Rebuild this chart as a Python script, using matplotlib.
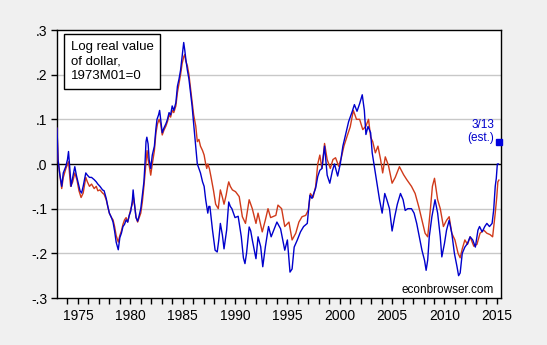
import matplotlib
matplotlib.use("Agg")
import matplotlib.pyplot as plt
import numpy as np

plt.rcParams['font.family'] = ['Liberation Sans', 'DejaVu Sans']

# Log real value of dollar (fractional year, value)
blue_t = [1973.0, 1973.1, 1973.25, 1973.45, 1973.6, 1973.85, 1974.0, 1974.1, 1974.25, 1974.35,
          1974.5, 1974.7, 1974.85, 1975.0, 1975.2, 1975.35, 1975.5, 1975.75, 1975.9, 1976.1,
          1976.3, 1976.55, 1976.75, 1976.9, 1977.1, 1977.35, 1977.5, 1977.7, 1977.85, 1978.0,
          1978.2, 1978.35, 1978.5, 1978.65, 1978.85, 1979.0, 1979.15, 1979.3, 1979.45, 1979.6,
          1979.75, 1979.9, 1980.05, 1980.2, 1980.27, 1980.4, 1980.55, 1980.7, 1980.85, 1981.0,
          1981.15, 1981.3, 1981.4, 1981.5, 1981.58, 1981.7, 1981.8, 1981.95, 1982.1, 1982.3,
          1982.45, 1982.55, 1982.7, 1982.8, 1982.9, 1983.05, 1983.2, 1983.4, 1983.55, 1983.7,
          1983.85, 1984.0, 1984.15, 1984.35, 1984.5, 1984.65, 1984.8, 1984.95, 1985.1, 1985.2,
          1985.3, 1985.45, 1985.6, 1985.75, 1985.9, 1986.05, 1986.25, 1986.4, 1986.55, 1986.7,
          1986.9, 1987.05, 1987.2, 1987.4, 1987.5, 1987.6, 1987.85, 1988.1, 1988.3, 1988.45,
          1988.6, 1988.8, 1988.95, 1989.2, 1989.4, 1989.55, 1989.7, 1990.0, 1990.3, 1990.6,
          1990.8, 1990.95, 1991.1, 1991.35, 1991.5, 1991.65, 1992.0, 1992.2, 1992.45, 1992.65,
          1992.9, 1993.2, 1993.45, 1993.7, 1994.0, 1994.35, 1994.5, 1994.75, 1995.0, 1995.25,
          1995.45, 1995.65, 1995.95, 1996.25, 1996.55, 1996.9, 1997.15, 1997.35, 1997.7, 1997.9,
          1998.1, 1998.3, 1998.55, 1998.8, 1999.05, 1999.3, 1999.5, 1999.8, 2000.05, 2000.3,
          2000.6, 2000.85, 2001.2, 2001.4, 2001.65, 2001.9, 2002.15, 2002.35, 2002.5, 2002.7,
          2002.95, 2003.1, 2003.35, 2003.55, 2003.8, 2004.05, 2004.3, 2004.5, 2004.75, 2005.0,
          2005.25, 2005.5, 2005.8, 2006.05, 2006.25, 2006.5, 2006.85, 2007.1, 2007.35, 2007.6,
          2007.85, 2008.1, 2008.25, 2008.4, 2008.55, 2008.8, 2009.1, 2009.35, 2009.6, 2009.75,
          2010.0, 2010.2, 2010.45, 2010.7, 2010.95, 2011.2, 2011.35, 2011.5, 2011.7, 2011.95,
          2012.2, 2012.45, 2012.7, 2012.95, 2013.2, 2013.35, 2013.6, 2013.85, 2014.05, 2014.3,
          2014.55, 2014.7, 2014.85, 2014.95, 2015.05, 2015.15]
blue_v = [0.08, 0.01, -0.02, -0.05, -0.02, -0.005, 0.01, 0.028, -0.02, -0.05,
          -0.03, -0.006, -0.025, -0.04, -0.06, -0.065, -0.05, -0.02, -0.025, -0.03,
          -0.03, -0.035, -0.04, -0.045, -0.05, -0.058, -0.06, -0.077, -0.095, -0.11,
          -0.12, -0.13, -0.15, -0.175, -0.192, -0.165, -0.155, -0.14, -0.135, -0.125,
          -0.13, -0.115, -0.105, -0.08, -0.058, -0.09, -0.12, -0.128, -0.115, -0.1,
          -0.07, -0.04, 0.0, 0.05, 0.06, 0.045, 0.01, -0.01, 0.02, 0.04,
          0.08, 0.1, 0.11, 0.12, 0.1, 0.07, 0.08, 0.09, 0.1, 0.115,
          0.11, 0.13, 0.12, 0.137, 0.174, 0.19, 0.21, 0.24, 0.272, 0.255,
          0.235, 0.21, 0.19, 0.16, 0.13, 0.09, 0.04, 0.0, -0.01, -0.02,
          -0.04, -0.05, -0.08, -0.11, -0.095, -0.095, -0.148, -0.193, -0.197, -0.17,
          -0.133, -0.16, -0.19, -0.148, -0.085, -0.095, -0.1, -0.12, -0.117, -0.163,
          -0.21, -0.223, -0.2, -0.141, -0.15, -0.17, -0.212, -0.163, -0.185, -0.23,
          -0.185, -0.14, -0.163, -0.148, -0.13, -0.145, -0.163, -0.193, -0.17, -0.242,
          -0.235, -0.186, -0.17, -0.152, -0.14, -0.133, -0.07, -0.077, -0.054, -0.028,
          -0.014, -0.01, 0.04, -0.025, -0.043, -0.015, 0.0, -0.027, 0.0, 0.04,
          0.07, 0.095, 0.118, 0.133, 0.118, 0.135, 0.155, 0.12, 0.066, 0.084,
          0.07, 0.025, -0.013, -0.043, -0.08, -0.11, -0.066, -0.08, -0.1, -0.15,
          -0.118, -0.09, -0.066, -0.08, -0.104, -0.1, -0.1, -0.11, -0.133, -0.163,
          -0.193, -0.216, -0.238, -0.215, -0.163, -0.118, -0.08, -0.11, -0.163, -0.208,
          -0.178, -0.148, -0.126, -0.155, -0.2, -0.23, -0.25, -0.244, -0.2, -0.186,
          -0.178, -0.163, -0.17, -0.186, -0.148, -0.14, -0.152, -0.14, -0.133, -0.14,
          -0.133, -0.103, -0.05, -0.032, 0.0, 0.0]

red_t = [1973.0, 1973.1, 1973.3, 1973.45, 1973.6, 1973.85, 1974.1, 1974.3, 1974.5, 1974.7,
         1974.9, 1975.1, 1975.3, 1975.5, 1975.75, 1975.9, 1976.1, 1976.3, 1976.55, 1976.75,
         1976.9, 1977.1, 1977.35, 1977.5, 1977.7, 1977.85, 1978.0, 1978.2, 1978.35, 1978.5,
         1978.65, 1978.85, 1979.0, 1979.15, 1979.3, 1979.45, 1979.6, 1979.75, 1979.9, 1980.05,
         1980.2, 1980.3, 1980.4, 1980.55, 1980.7, 1980.85, 1981.0, 1981.15, 1981.3, 1981.45,
         1981.6, 1981.7, 1981.85, 1981.95, 1982.1, 1982.3, 1982.45, 1982.6, 1982.75, 1982.9,
         1983.05, 1983.2, 1983.4, 1983.55, 1983.7, 1983.85, 1984.0, 1984.15, 1984.35, 1984.5,
         1984.65, 1984.8, 1984.95, 1985.1, 1985.2, 1985.3, 1985.45, 1985.6, 1985.75, 1985.9,
         1986.05, 1986.25, 1986.4, 1986.55, 1986.7, 1986.9, 1987.05, 1987.2, 1987.3, 1987.4,
         1987.55, 1987.7, 1987.95, 1988.15, 1988.4, 1988.6, 1988.8, 1988.95, 1989.15, 1989.3,
         1989.4, 1989.55, 1989.75, 1990.05, 1990.4, 1990.7, 1991.0, 1991.35, 1991.65, 1992.0,
         1992.2, 1992.6, 1992.9, 1993.15, 1993.4, 1993.9, 1994.1, 1994.45, 1994.75, 1995.15,
         1995.45, 1995.8, 1996.1, 1996.4, 1996.75, 1997.0, 1997.2, 1997.45, 1997.7, 1997.9,
         1998.1, 1998.3, 1998.55, 1998.8, 1999.1, 1999.35, 1999.6, 1999.9, 2000.15, 2000.4,
         2000.7, 2001.0, 2001.3, 2001.6, 2001.9, 2002.2, 2002.5, 2002.75, 2002.95, 2003.15,
         2003.4, 2003.65, 2003.9, 2004.1, 2004.35, 2004.65, 2005.0, 2005.3, 2005.7, 2006.1,
         2006.4, 2006.85, 2007.2, 2007.55, 2007.85, 2008.15, 2008.4, 2008.65, 2008.85, 2009.05,
         2009.35, 2009.6, 2009.9, 2010.2, 2010.45, 2010.7, 2011.0, 2011.3, 2011.5, 2011.7,
         2011.95, 2012.2, 2012.45, 2012.8, 2013.1, 2013.4, 2013.75, 2014.05, 2014.35, 2014.6,
         2014.85, 2015.0, 2015.1, 2015.2]
red_v = [0.08, 0.01, -0.03, -0.055, -0.03, -0.01, 0.005, -0.05, -0.04, -0.02,
         -0.035, -0.06, -0.075, -0.065, -0.03, -0.04, -0.05, -0.045, -0.055, -0.05,
         -0.06, -0.058, -0.065, -0.068, -0.08, -0.095, -0.11, -0.12, -0.125, -0.14,
         -0.16, -0.175, -0.16, -0.15, -0.135, -0.125, -0.12, -0.13, -0.115, -0.1,
         -0.09, -0.075, -0.09, -0.12, -0.13, -0.12, -0.11, -0.085, -0.05, -0.01,
         0.03, 0.01, -0.01, -0.025, 0.0, 0.03, 0.07, 0.09, 0.1, 0.09,
         0.065, 0.075, 0.085, 0.095, 0.11, 0.105, 0.12, 0.115, 0.13, 0.16,
         0.18, 0.2, 0.225, 0.24, 0.245, 0.23, 0.22, 0.2, 0.17, 0.14,
         0.11, 0.085, 0.05, 0.055, 0.04, 0.03, 0.02, 0.0, -0.01, 0.0,
         -0.01, -0.028, -0.06, -0.09, -0.1, -0.058, -0.075, -0.09, -0.07, -0.05,
         -0.04, -0.05, -0.058, -0.062, -0.073, -0.118, -0.133, -0.08, -0.1, -0.133,
         -0.11, -0.152, -0.125, -0.1, -0.12, -0.115, -0.092, -0.1, -0.14, -0.13,
         -0.17, -0.155, -0.13, -0.118, -0.115, -0.103, -0.066, -0.075, -0.05, 0.0,
         0.02, -0.01, 0.046, 0.01, -0.01, 0.01, 0.014, -0.005, 0.014, 0.04,
         0.062, 0.083, 0.12, 0.1, 0.1, 0.077, 0.085, 0.1, 0.06, 0.05,
         0.025, 0.04, 0.01, -0.02, 0.016, -0.003, -0.043, -0.03, -0.006, -0.024,
         -0.035, -0.05, -0.066, -0.096, -0.126, -0.155, -0.163, -0.103, -0.05, -0.032,
         -0.08, -0.1, -0.14, -0.126, -0.118, -0.155, -0.17, -0.2, -0.21, -0.19,
         -0.17, -0.18, -0.163, -0.184, -0.18, -0.155, -0.148, -0.155, -0.158, -0.163,
         -0.11, -0.073, -0.04, -0.036]

est_t = 2015.2
est_v = 0.049

years = list(range(1974, 2016))
year_labels = [1975, 1980, 1985, 1990, 1995, 2000, 2005, 2010, 2015]
y_ticks = [-0.3, -0.2, -0.1, 0.0, 0.1, 0.2, 0.3]
y_labels = ['-.3', '-.2', '-.1', '.0', '.1', '.2', '.3']

fig = plt.figure(figsize=(5.47, 3.45), dpi=100, facecolor='#f0f0f0')
ax = fig.add_axes([57/547, 47/345, 444/547, 268/345])
ax.set_facecolor('white')

for g in [-0.2, -0.1, 0.1, 0.2]:
    ax.axhline(g, color='#c8c8c8', lw=1, zorder=1)
ax.axhline(0, color='black', lw=1, zorder=1)

ax.plot(red_t, red_v, color='#d03a1a', lw=1, zorder=3)
ax.plot(blue_t, blue_v, color='#0000cc', lw=1, zorder=4)
ax.plot([est_t], [est_v], 's', color='#0000dd', ms=4, clip_on=False, zorder=5)

ax.text(2014.75, 0.088, '3/13', color='#0000cc', fontsize=8.5, ha='right', va='center')
ax.text(2014.75, 0.058, '(est.)', color='#0000cc', fontsize=8.5, ha='right', va='center')
ax.text(2014.7, -0.281, 'econbrowser.com', fontsize=8.5, ha='right', va='center')

ax.text(1974.3, 0.276, 'Log real value\nof dollar,\n1973M01=0', fontsize=9.5,
        ha='left', va='top', linespacing=1.3,
        bbox=dict(boxstyle='square,pad=0.5', fc='white', ec='black', lw=1))

ax.set_xlim(1973.0, 2015.4)
ax.set_ylim(-0.3, 0.3)
ax.set_xticks(years, minor=True)
ax.set_xticks(year_labels)
ax.set_xticklabels([str(y) for y in year_labels])
ax.set_yticks(y_ticks)
ax.set_yticklabels(y_labels)
ax.tick_params(axis='x', which='both', direction='out', length=4, width=1, labelsize=10, pad=4)
ax.tick_params(axis='y', direction='out', length=4, width=1, labelsize=10, pad=3)
for s in ax.spines.values():
    s.set_linewidth(1)
    s.set_color('black')

plt.savefig('out.png', dpi=100, facecolor=fig.get_facecolor())
